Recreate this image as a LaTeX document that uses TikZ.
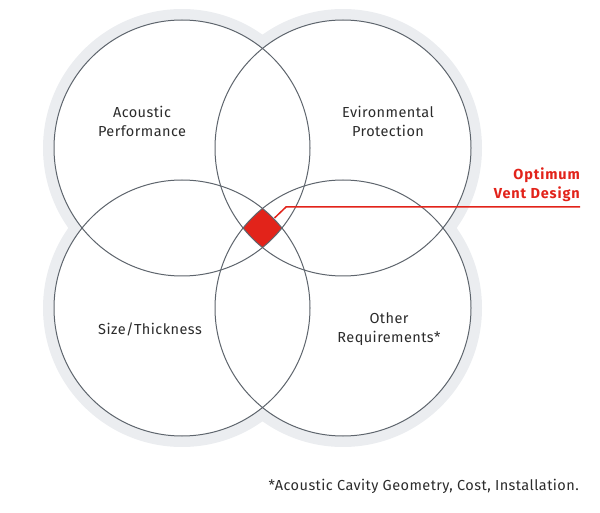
\documentclass[tikz,border=0pt]{standalone}
\usepackage{fontspec}
\setmainfont{Fira Sans}
\newfontfamily\labelfont[LetterSpace=3]{Fira Sans}
\newfontfamily\ventfont[LetterSpace=6]{Fira Sans}
\definecolor{halo}{HTML}{EBEDF0}
\definecolor{ring}{HTML}{5E656D}
\definecolor{vent}{HTML}{E2231A}
\definecolor{txt}{HTML}{2B2B2B}
\tikzset{
  ringline/.style={draw=ring, line width=1pt},
  label/.style={text=txt, align=center, inner sep=0pt, font=\labelfont\fontsize{14.5}{19}\selectfont},
  ventlabel/.style={text=vent, align=right, inner sep=0pt, font=\ventfont\fontsize{14.5}{19}\selectfont\bfseries},
  ventline/.style={draw=vent, line width=1.5pt}
}
\begin{document}
\begin{tikzpicture}[x=1pt,y=-1pt]
\useasboundingbox (0,0) rectangle (600,513);
\coordinate (c1) at (182,148);
\coordinate (c2) at (343,148);
\coordinate (c3) at (182,308);
\coordinate (c4) at (343,308);
% halo
\foreach \c in {c1,c2,c3,c4} \fill[halo] (\c) circle[radius=139pt];
\foreach \c in {c1,c2,c3,c4} \fill[white] (\c) circle[radius=128pt];
% central region
\begin{scope}
\clip (c1) circle[radius=128pt];
\clip (c2) circle[radius=128pt];
\clip (c3) circle[radius=128pt];
\clip (c4) circle[radius=128pt];
\fill[vent] (200,150) rectangle (330,300);
\end{scope}
\foreach \c in {c1,c2,c3,c4} \draw[ringline] (\c) circle[radius=128pt];
% labels
\node[label] (acoustic) at (142,121) {Acoustic\\Performance};
\node[label] (environ) at (388,121) {Evironmental\\Protection};
\node[label] (size) at (150,329) {Size/Thickness};
\node[label] (other) at (389,329) {Other\\Requirements*};
\node[ventlabel, anchor=south east] (vent) at (580,202) {Optimum\\Vent Design};
\node[label, anchor=base east] (note) at (579,490) {*Acoustic Cavity Geometry, Cost, Installation.};
% connector
\coordinate (dia) at (274.5,218);
\coordinate (bend) at (286,207);
\coordinate (lineend) at (580,207);
\draw[ventline] (dia) -- (bend) -- (lineend);
\end{tikzpicture}
\end{document}
